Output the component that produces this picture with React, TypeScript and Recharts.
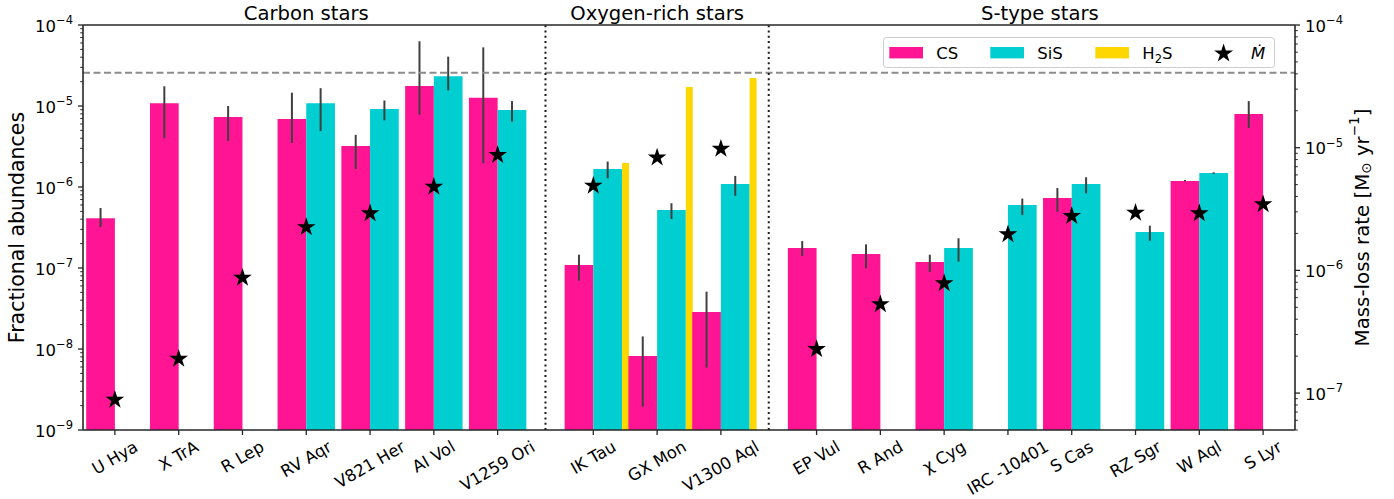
import React from "react";
import {
  ComposedChart,
  XAxis,
  YAxis,
  Scatter,
  ReferenceArea,
  ReferenceLine,
  Legend,
  Label,
} from "recharts";

const FONT = "'DejaVu Sans', Verdana, sans-serif";
const CS_COLOR = "#FF1493";
const SIS_COLOR = "#00CED1";
const H2S_COLOR = "#FFD700";
const ERR_COLOR = "#404040";
const SPINE = "#262626";

// Stars and their position along the x axis (groups separated by a 1.5 step)
const stars = [
  "U Hya", "X TrA", "R Lep", "RV Aqr", "V821 Her", "AI Vol", "V1259 Ori",
  "IK Tau", "GX Mon", "V1300 Aql",
  "EP Vul", "R And", "χ Cyg", "IRC -10401", "S Cas", "RZ Sgr", "W Aql", "S Lyr",
];
const starX = [0, 1, 2, 3, 4, 5, 6, 7.5, 8.5, 9.5, 11, 12, 13, 14, 15, 16, 17, 18];

const groups = [
  { name: "Carbon stars", from: 0, to: 6 },
  { name: "Oxygen-rich stars", from: 7, to: 9 },
  { name: "S-type stars", from: 10, to: 17 },
];

// Fractional abundances (left axis)
const csAbund = [4.1e-7, 1.08e-5, 7.3e-6, 6.9e-6, 3.2e-6, 1.77e-5, 1.26e-5, 1.09e-7, 8.2e-9, 2.86e-8, 1.77e-7, 1.49e-7, 1.19e-7, null, 7.3e-7, null, 1.19e-6, 7.96e-6];
const csLow = [3.2e-7, 4.0e-6, 3.7e-6, 3.5e-6, 1.67e-6, 7.8e-6, 1.96e-6, 6.97e-8, 1.94e-9, 5.9e-9, 1.41e-7, 9.9e-8, 8.9e-8, null, 4.95e-7, null, 1.17e-6, 5.35e-6];
const csHigh = [5.5e-7, 1.75e-5, 1.0e-5, 1.46e-5, 4.4e-6, 6.3e-5, 5.3e-5, 1.46e-7, 1.43e-8, 5.1e-8, 2.15e-7, 1.96e-7, 1.46e-7, null, 9.7e-7, null, 1.22e-6, 1.15e-5];

const sisAbund = [null, null, null, 1.08e-5, 9.2e-6, 2.33e-5, 8.9e-6, 1.67e-6, 5.2e-7, 1.09e-6, null, null, 1.77e-7, 6.0e-7, 1.09e-6, 2.78e-7, 1.49e-6, null];
const sisLow = [null, null, null, 4.9e-6, 6.65e-6, 1.56e-5, 6.4e-6, 1.28e-6, 4.03e-7, 7.8e-7, null, null, 1.2e-7, 4.5e-7, 8.35e-7, 2.17e-7, 1.45e-6, null];
const sisHigh = [null, null, null, 1.66e-5, 1.17e-5, 4.07e-5, 1.15e-5, 2.06e-6, 6.3e-7, 1.37e-6, null, null, 2.33e-7, 7.2e-7, 1.32e-6, 3.33e-7, 1.52e-6, null];

const h2sAbund = [null, null, null, null, null, null, null, 1.98e-6, 1.72e-5, 2.22e-5, null, null, null, null, null, null, null, null];

// Mass-loss rates (right axis, Msun/yr)
const mdot = [8.8e-8, 1.9e-7, 8.7e-7, 2.25e-6, 2.92e-6, 4.8e-6, 8.7e-6, 4.9e-6, 8.3e-6, 9.8e-6, 2.28e-7, 5.3e-7, 7.85e-7, 1.97e-6, 2.77e-6, 2.95e-6, 2.92e-6, 3.46e-6];

const sulphurLimit = 2.57e-5;

const leftMajor = [1e-9, 1e-8, 1e-7, 1e-6, 1e-5, 1e-4];
const rightMajor = [1e-7, 1e-6, 1e-5, 1e-4];
const LEFT_DOMAIN = [1e-9, 1e-4];
const RIGHT_DOMAIN = [5e-8, 1e-4];

const BAR_W = 0.45;
const H2S_W = 0.11;

function withMinor(lo: number, hi: number, major: number[]) {
  const out = [...major];
  for (let k = -10; k <= -4; k++) {
    for (let m = 2; m <= 9; m++) {
      const v = m * Math.pow(10, k);
      if (v >= lo && v <= hi) out.push(v);
    }
  }
  return out.sort((a, b) => a - b);
}
const leftTicks = withMinor(LEFT_DOMAIN[0], LEFT_DOMAIN[1], leftMajor);
const rightTicks = withMinor(RIGHT_DOMAIN[0], RIGHT_DOMAIN[1], rightMajor);

let measureCtx: CanvasRenderingContext2D | null = null;
function textWidth(s: string, size: number) {
  if (!measureCtx) measureCtx = document.createElement("canvas").getContext("2d");
  if (!measureCtx) return s.length * size * 0.6;
  measureCtx.font = `${size}px "DejaVu Sans"`;
  return measureCtx.measureText(s).width;
}

function isMajor(v: number) {
  const l = Math.log10(v);
  return Math.abs(l - Math.round(l)) < 1e-6;
}

function PowTick({ x, y, payload, side }: any) {
  const v = payload.value;
  const major = isMajor(v);
  const e = Math.round(Math.log10(v));
  const dir = side === "left" ? -1 : 1;
  return (
    <g>
      <line
        x1={x}
        x2={x + dir * (major ? 5 : 2.8)}
        y1={y}
        y2={y}
        stroke={SPINE}
        strokeWidth={major ? 1.3 : 1}
      />
      {major && (
        <text
          x={x + dir * 10}
          y={y + 6.5}
          textAnchor={side === "left" ? "end" : "start"}
          fontSize={16.5}
          fill="#000"
          fontFamily={FONT}
        >
          10
          <tspan dy={-7.5} fontSize={11.5}>
            {"−" + Math.abs(e)}
          </tspan>
        </text>
      )}
    </g>
  );
}

function StarTick({ x, y, payload }: any) {
  const i = starX.indexOf(payload.value);
  const name = i >= 0 ? stars[i] : "";
  const fs = 16.5;
  const L = textWidth(name, fs);
  const cy = y + 7 + (0.5 * L + 0.866 * 1.164 * fs) / 2;
  return (
    <g>
      <line x1={x} x2={x} y1={y} y2={y + 5} stroke={SPINE} strokeWidth={1.3} />
      <text
        x={x}
        y={cy}
        textAnchor="middle"
        dominantBaseline="central"
        transform={`rotate(-30 ${x} ${cy})`}
        fontSize={fs}
        fill="#000"
        fontFamily={FONT}
      >
        {name}
      </text>
    </g>
  );
}

function starPoints(cx: number, cy: number, R: number) {
  const pts: string[] = [];
  for (let k = 0; k < 10; k++) {
    const a = Math.PI / 2 + (k * Math.PI) / 5;
    const r = k % 2 === 0 ? R : R * 0.381966;
    pts.push(`${cx + r * Math.cos(a)},${cy - r * Math.sin(a)}`);
  }
  return pts.join(" ");
}

function StarShape(props: any) {
  const { cx, cy } = props;
  if (cx == null || cy == null) return <g />;
  return <polygon points={starPoints(cx, cy, 9.8)} fill="#000" />;
}

function LeftTitle({ viewBox }: any) {
  const cx = viewBox.x + 17;
  const cy = viewBox.y + viewBox.height / 2;
  return (
    <text
      x={cx}
      y={cy}
      transform={`rotate(-90 ${cx} ${cy})`}
      textAnchor="middle"
      dominantBaseline="central"
      fontSize={20.5}
      fill="#000"
      fontFamily={FONT}
    >
      Fractional abundances
    </text>
  );
}

function RightTitle({ viewBox }: any) {
  const cx = viewBox.x + 67;
  const cy = viewBox.y + viewBox.height / 2;
  return (
    <text
      x={cx}
      y={cy}
      transform={`rotate(-90 ${cx} ${cy})`}
      textAnchor="middle"
      dominantBaseline="central"
      fontSize={19.8}
      fill="#000"
      fontFamily={FONT}
    >
      Mass-loss rate [M
      <tspan dy={4} fontSize={13.5}>⊙</tspan>
      <tspan dy={-4}> yr</tspan>
      <tspan dy={-8} fontSize={13.5}>−1</tspan>
      <tspan dy={8}>]</tspan>
    </text>
  );
}

const legendItems = [
  { label: "CS", color: CS_COLOR, at: 6.3 },
  { label: "SiS", color: SIS_COLOR, at: 107.3 },
  { label: "H2S", color: H2S_COLOR, at: 212.3 },
];

function LegendBox() {
  return (
    <svg width={392} height={31} style={{ display: "block", overflow: "visible" }}>
      <rect x={0.5} y={0.5} width={391} height={30} rx={3} fill="#fff" fillOpacity={0.8} stroke="#cccccc" />
      {legendItems.map((it) => (
        <g key={it.label}>
          <rect x={it.at} y={10} width={33.7} height={11.4} fill={it.color} />
          <text x={it.at + 47} y={21.8} fontSize={16.5} fill="#000" fontFamily={FONT}>
            {it.label === "H2S" ? (
              <>
                H<tspan dy={4} fontSize={11.5}>2</tspan>
                <tspan dy={-4}>S</tspan>
              </>
            ) : (
              it.label
            )}
          </text>
        </g>
      ))}
      <polygon points={starPoints(340.6, 16.5, 10)} fill="#000" />
      <text x={368} y={21.8} fontSize={16.5} fontStyle="italic" fill="#000" fontFamily={FONT}>
        Ṁ
      </text>
    </svg>
  );
}

export default function App() {
  const bars: { key: string; x1: number; x2: number; top: number; color: string }[] = [];
  const errs: { key: string; x: number; lo: number; hi: number }[] = [];
  stars.forEach((_, i) => {
    const x = starX[i];
    const cs = csAbund[i];
    const sis = sisAbund[i];
    const h2s = h2sAbund[i];
    if (cs != null) {
      bars.push({ key: `cs${i}`, x1: x - BAR_W, x2: x, top: cs, color: CS_COLOR });
      if (csLow[i] != null && csHigh[i] != null)
        errs.push({ key: `ecs${i}`, x: x - BAR_W / 2, lo: csLow[i] as number, hi: csHigh[i] as number });
    }
    if (sis != null) {
      bars.push({ key: `sis${i}`, x1: x, x2: x + BAR_W, top: sis, color: SIS_COLOR });
      if (sisLow[i] != null && sisHigh[i] != null)
        errs.push({ key: `esis${i}`, x: x + BAR_W / 2, lo: sisLow[i] as number, hi: sisHigh[i] as number });
    }
    if (h2s != null) {
      bars.push({ key: `h2s${i}`, x1: x + BAR_W, x2: x + BAR_W + H2S_W, top: h2s, color: H2S_COLOR });
    }
  });

  const mdotData = stars.map((name, i) => ({ name, x: starX[i], mdot: mdot[i] }));
  const dividers = [(starX[6] + starX[7]) / 2, (starX[9] + starX[10]) / 2];

  return (
    <div
      style={{
        position: "absolute",
        left: 0,
        top: 0,
        width: 1394,
        height: 499,
        background: "#fff",
        fontFamily: FONT,
      }}
    >
      <ComposedChart
        width={1394}
        height={499}
        data={mdotData}
        margin={{ top: 25, right: 0, bottom: 0, left: 0 }}
      >
        <XAxis
          dataKey="x"
          type="number"
          domain={[-0.5, 18.5]}
          allowDataOverflow
          ticks={starX}
          interval={0}
          tickSize={0}
          tickMargin={0}
          tickLine={false}
          tick={<StarTick />}
          height={69}
          axisLine={{ stroke: SPINE, strokeWidth: 1.6 }}
        />
        <YAxis
          yAxisId="left"
          orientation="left"
          scale="log"
          type="number"
          domain={LEFT_DOMAIN}
          allowDataOverflow
          ticks={leftTicks}
          interval={0}
          tickSize={0}
          tickMargin={0}
          tickLine={false}
          tick={<PowTick side="left" />}
          width={83}
          axisLine={{ stroke: SPINE, strokeWidth: 1.6 }}
          label={<Label content={<LeftTitle />} />}
        />
        <YAxis
          yAxisId="right"
          orientation="right"
          scale="log"
          type="number"
          domain={RIGHT_DOMAIN}
          allowDataOverflow
          ticks={rightTicks}
          interval={0}
          tickSize={0}
          tickMargin={0}
          tickLine={false}
          tick={<PowTick side="right" />}
          width={99}
          axisLine={{ stroke: SPINE, strokeWidth: 1.6 }}
          label={<Label content={<RightTitle />} />}
        />

        {groups.map((g) => (
          <ReferenceArea
            key={g.name}
            yAxisId="left"
            x1={starX[g.from] - 0.5}
            x2={starX[g.to] + 0.5}
            y1={LEFT_DOMAIN[0]}
            y2={LEFT_DOMAIN[1]}
            fillOpacity={0}
            stroke="none"
            ifOverflow="visible"
            label={{ value: g.name, position: "top", offset: 5, fontSize: 19.6, fill: "#000" }}
          />
        ))}

        {bars.map((b) => (
          <ReferenceArea
            key={b.key}
            yAxisId="left"
            x1={b.x1}
            x2={b.x2}
            y1={LEFT_DOMAIN[0]}
            y2={b.top}
            fill={b.color}
            fillOpacity={1}
            stroke="none"
            ifOverflow="visible"
          />
        ))}

        {errs.map((e) => (
          <ReferenceLine
            key={e.key}
            yAxisId="left"
            segment={[
              { x: e.x, y: e.lo },
              { x: e.x, y: e.hi },
            ]}
            stroke={ERR_COLOR}
            strokeWidth={2}
            ifOverflow="visible"
          />
        ))}

        <ReferenceLine
          yAxisId="left"
          y={sulphurLimit}
          stroke="#8c8c8c"
          strokeWidth={2}
          strokeDasharray="7 3.5"
          ifOverflow="visible"
        />
        {dividers.map((d) => (
          <ReferenceLine
            key={d}
            yAxisId="left"
            x={d}
            stroke="#1a1a1a"
            strokeWidth={2}
            strokeDasharray="2 3.3"
            ifOverflow="visible"
          />
        ))}
        <ReferenceLine
          yAxisId="left"
          y={LEFT_DOMAIN[1]}
          stroke={SPINE}
          strokeWidth={1.6}
          ifOverflow="visible"
        />

        <Scatter
          yAxisId="right"
          dataKey="mdot"
          name="Ṁ"
          fill="#000"
          shape={<StarShape />}
          isAnimationActive={false}
        />

        <Legend
          layout="horizontal"
          verticalAlign="middle"
          align="center"
          content={<LegendBox />}
          wrapperStyle={{ left: 882.5, top: 37.3, width: 392, height: 31 }}
        />
      </ComposedChart>
    </div>
  );
}
